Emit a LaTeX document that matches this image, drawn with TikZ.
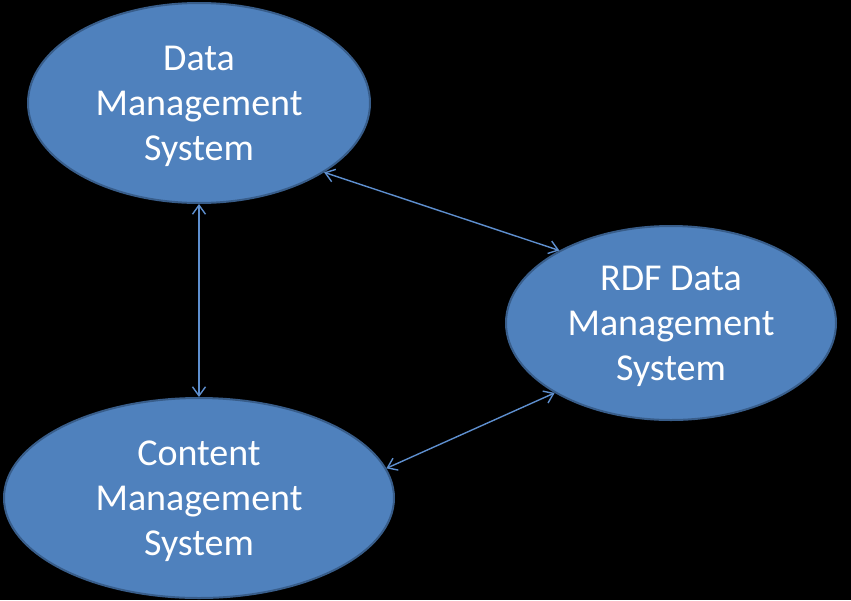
\documentclass[tikz,border=0pt]{standalone}
\usepackage{fontspec}
\setmainfont{Carlito}
\usetikzlibrary{shapes.geometric,arrows.meta}
\definecolor{fillblue}{HTML}{4F81BD}
\definecolor{edgeblue}{HTML}{385D8A}
\definecolor{linkblue}{HTML}{5E8FCF}
\tikzset{
  sysnode/.style={ellipse, draw=edgeblue, line width=2pt, fill=fillblue, inner sep=0pt},
  systext/.style={text=white, align=center, font=\fontsize{38}{45}\selectfont, yshift=-3pt},
  link/.style={draw=linkblue, line width=1.4pt,
    {Straight Barb[length=9pt,width=13pt]}-{Straight Barb[length=9pt,width=13pt]}}
}
\begin{document}
\begin{tikzpicture}[x=1pt,y=-1pt]
\fill[black] (0,0) rectangle (851,600);
\useasboundingbox (0,0) rectangle (851,600);
\node[sysnode, minimum width=342pt, minimum height=200pt,
  label={[systext]center:Data\\Management\\System}] (dms) at (199,103) {};
\node[sysnode, minimum width=330pt, minimum height=194pt,
  label={[systext]center:RDF Data\\Management\\System}] (rdf) at (671,323) {};
\node[sysnode, minimum width=390pt, minimum height=200pt,
  label={[systext]center:Content\\Management\\System}] (cms) at (199,498) {};
\draw[link] (dms.south) -- (cms.north);
\draw[link] (dms.-29.7) -- (rdf.147.4);
\draw[link] (cms.9.8) -- (rdf.211.5);
\end{tikzpicture}
\end{document}
